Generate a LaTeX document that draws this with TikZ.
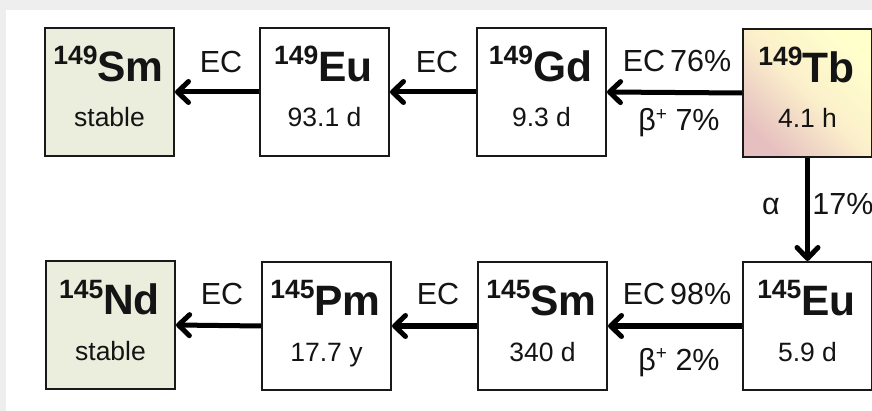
\documentclass[tikz,border=0pt]{standalone}
\usepackage{fontspec}
\setmainfont{Liberation Sans}
\usetikzlibrary{arrows.meta,calc}

\definecolor{pagegray}{HTML}{EEEEEE}
\definecolor{stablefill}{HTML}{EBEEDC}
\definecolor{inktext}{HTML}{141414}
\definecolor{tbtop}{HTML}{FFFFCC}
\definecolor{tbmid}{HTML}{FBEFCB}
\definecolor{tbbot}{HTML}{E6C0C0}

% isotope label: bold mass number as raised prefix, bold element symbol
\newcommand\isotope[2]{%
  {\fontsize{26.5}{26.5}\selectfont\bfseries\raisebox{17pt}{#1}}%
  {\fontsize{42.5}{42.5}\selectfont\bfseries #2}}
\newcommand\halflife[1]{{\fontsize{26.5}{26.5}\selectfont #1}}
\newcommand\branch[1]{{\fontsize{30.5}{30.5}\selectfont #1}}
\newcommand\betaplus{β\raisebox{10pt}{\fontsize{19}{19}\selectfont +}}

\begin{document}
\begin{tikzpicture}[x=1pt,y=-1pt,
  nuc/.style={draw=black!90, line width=2pt, minimum width=129pt,
    minimum height=128pt, inner sep=0pt, anchor=north west},
  stablebox/.style={nuc, fill=stablefill},
  parentbox/.style={nuc, top color=tbtop, bottom color=tbbot,
    middle color=tbmid, shading angle=-45},
  txt/.style={anchor=base, inner sep=0pt, text=inktext},
  decay/.style={line width=5pt, draw=black,
    -{Straight Barb[length=11pt,width=21pt,line cap=round,line join=round]}}]

\useasboundingbox (0,0) rectangle (872,411);
% page backdrop with a light gray margin on top and left
\fill[pagegray] (0,0) rectangle (872,411);
\fill[white] (6,10) rectangle (872,411);

% upper chain (A = 149)
\node[stablebox] (sm149) at (44,27) {};
\node[nuc]       (eu149) at (259,27) {};
\node[nuc]       (gd149) at (476,27) {};
\node[parentbox] (tb149) at (742,28) {};

% lower chain (A = 145)
\node[stablebox] (nd145) at (45,260) {};
\node[nuc]       (pm145) at (261,261) {};
\node[nuc]       (sm145) at (477,261) {};
\node[nuc]       (eu145) at (742,261) {};

% box contents
\foreach \b/\m/\e/\t in {sm149/149/Sm/stable, eu149/149/Eu/93.1 d,
    gd149/149/Gd/9.3 d, tb149/149/Tb/4.1 h,
    nd145/145/Nd/stable, pm145/145/Pm/17.7 y,
    sm145/145/Sm/340 d, eu145/145/Eu/5.9 d}{
  \node[txt] (\b-name) at ($(\b.north)+(-1,55)$) {\isotope{\m}{\e}};
  \node[txt] (\b-life) at ($(\b.north)+(0,100)$) {\halflife{\t}};
}

% decay arrows
\draw[decay] (eu149.west) -- (sm149.east);
\draw[decay] (gd149.west) -- (eu149.east);
\draw[decay] (tb149.west) -- (gd149.east);
\draw[decay] (tb149.south) -- (eu145.north);
\draw[decay] (pm145.west) -- (nd145.east);
\draw[decay] (sm145.west) -- (pm145.east);
\draw[decay] (eu145.west) -- (sm145.east);

% branch labels
\node[txt] (l1) at (221,73)  {\branch{EC}};
\node[txt] (l2) at (437,73)  {\branch{EC}};
\node[txt] (l3) at (677,72)  {\branch{EC\,76\%}};
\node[txt] (l4) at (679,131) {\branch{\betaplus\ 7\%}};
\node[txt] (l5) at (771,215) {\branch{α}};
\node[txt] (l6) at (843,215) {\branch{17\%}};
\node[txt] (l7) at (222,305) {\branch{EC}};
\node[txt] (l8) at (438,305) {\branch{EC}};
\node[txt] (l9) at (677,305) {\branch{EC\,98\%}};
\node[txt] (l10) at (679,370) {\branch{\betaplus\ 2\%}};

\end{tikzpicture}
\end{document}
